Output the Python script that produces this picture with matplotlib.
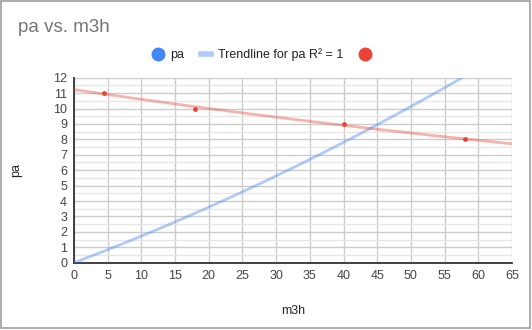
import matplotlib
matplotlib.use("Agg")
import matplotlib.pyplot as plt
from matplotlib.lines import Line2D
from matplotlib.patches import Rectangle
import numpy as np

plt.rcParams['font.family'] = ['Liberation Sans', 'DejaVu Sans']

# blue series "pa" (points hidden, only its polynomial trendline is shown)
pa_m3h = [0, 30, 57.6]
pa_vals = [0, 5.63, 12]

# red series (points shown, exponential trendline)
red_m3h = [4.5, 18, 40, 58]
red_vals = [11, 10, 9, 8]

x_ticks = np.arange(0, 66, 5)
y_ticks = np.arange(0, 13, 1)

blue = '#4285f4'
red = '#ea4335'

fig = plt.figure(figsize=(5.32, 3.30), dpi=100)
ax = fig.add_axes([74 / 532, 1 - 262.7 / 330, (512 - 74) / 532, (262.7 - 77.7) / 330])

# trendlines
xs = np.linspace(0, 65, 300)
coef = np.polyfit(pa_m3h, pa_vals, 2)
ys = np.polyval(coef, xs)
ax.plot(xs, ys, color=blue, alpha=0.42, lw=2, solid_capstyle='butt', zorder=3)

b, ln_a = np.polyfit(red_m3h, np.log(red_vals), 1)
ax.plot(xs, np.exp(ln_a) * np.exp(b * xs), color=red, alpha=0.4, lw=2, zorder=3)

ax.scatter(red_m3h, red_vals, s=12, color=red, zorder=4, linewidths=0)

ax.set_xlim(0, 65)
ax.set_ylim(0, 12)
ax.set_xticks(x_ticks)
ax.set_yticks(y_ticks)
ax.set_yticks(np.arange(0.5, 12, 1), minor=True)
ax.grid(True, which='major', color='#cccccc', lw=1)
ax.grid(True, which='minor', axis='y', color='#e6e6e6', lw=1)
ax.set_axisbelow(True)
ax.tick_params(which='both', length=0, labelsize=9, colors='#444444', pad=5)
for s in ['top', 'right']:
    ax.spines[s].set_visible(False)
for s in ['left', 'bottom']:
    ax.spines[s].set_color('#333333')
    ax.spines[s].set_linewidth(1.3)

ax.set_xlabel('m3h', fontsize=9, color='#222222')
ax.xaxis.set_label_coords(0.5, -(305 - 262.7) / 185)
ax.set_ylabel('pa', fontsize=9, color='#222222')
ax.yaxis.set_label_coords(-(74 - 22) / 438, 0.5)

fig.text(18 / 532, 1 - 28 / 330, 'pa vs. m3h', fontsize=13.5, color='#757575', va='center')

handles = [
    Line2D([], [], marker='o', ls='none', color=blue, markersize=9),
    Line2D([], [], color=blue, alpha=0.42, lw=4),
    Line2D([], [], marker='o', ls='none', color=red, markersize=9),
]
labels = ['pa', 'Trendline for pa R² = 1', '']
fig.legend(handles, labels, loc='center', bbox_to_anchor=(265 / 532, 1 - 55 / 330), ncol=3,
           frameon=False, fontsize=9, handlelength=0.8, handletextpad=0.6, columnspacing=1.3,
           labelcolor='#222222')

fig.patches.append(Rectangle((1 / 532, 2 / 330), 529 / 532, 327 / 330, transform=fig.transFigure,
                             fill=False, edgecolor='#9e9e9e', lw=1.2))

fig.savefig('out.png', dpi=100)
